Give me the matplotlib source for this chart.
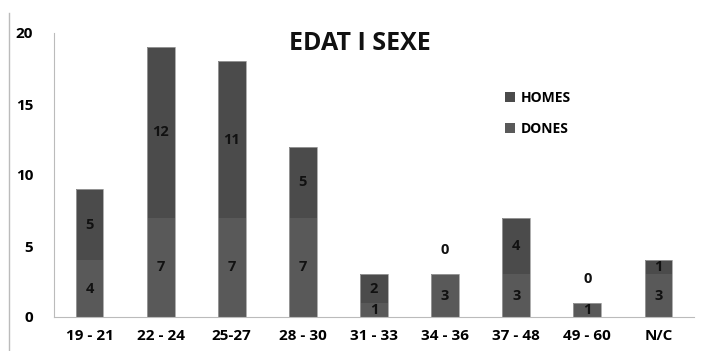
import matplotlib
matplotlib.use("Agg")
import matplotlib.pyplot as plt
from matplotlib.lines import Line2D
import numpy as np

# age groups and counts per sex
grups = ["19 - 21", "22 - 24", "25-27", "28 - 30", "31 - 33", "34 - 36", "37 - 48", "49 - 60", "N/C"]
dones = [4, 7, 7, 7, 1, 3, 3, 1, 3]
homes = [5, 12, 11, 5, 2, 0, 4, 0, 1]

color_homes = "#4b4b4b"
color_dones = "#595959"

plt.rcParams["font.family"] = ["Open Sans", "DejaVu Sans"]

fig = plt.figure(figsize=(7.02, 3.51), dpi=100)
ax = fig.add_axes([54 / 702, 1 - 317 / 351, 640 / 702, (317 - 33) / 351])

x = np.arange(len(grups))
w = 0.39
b1 = ax.bar(x, dones, w, color=color_dones, linewidth=0, label="DONES")
b2 = ax.bar(x, homes, w, bottom=dones, color=color_homes, linewidth=0, label="HOMES")
# thin light outline round each whole bar
totals = [d + h for d, h in zip(dones, homes)]
ax.bar(x, totals, w, fill=False, edgecolor="#a0a0a0", linewidth=0.6)

# value labels: inside the segment, or just above the bar when zero
for i in range(len(grups)):
    ax.text(x[i], dones[i] / 2, str(dones[i]), ha="center", va="center",
            fontsize=10.5, fontweight="bold", color="#111111")
    if homes[i] > 0:
        ax.text(x[i], dones[i] + homes[i] / 2, str(homes[i]), ha="center", va="center",
                fontsize=10.5, fontweight="bold", color="#111111")
    else:
        ax.text(x[i], dones[i] + 1.7, "0", ha="center", va="center",
                fontsize=10.5, fontweight="bold", color="#111111")

ax.set_xlim(-0.5, len(grups) - 0.5)
ax.set_ylim(0, 20)
ax.set_yticks([0, 5, 10, 15, 20])
ax.set_xticks(x)
ax.set_xticklabels(grups, fontsize=11, fontweight="bold")
ax.tick_params(axis="both", length=0)
ax.tick_params(axis="y", pad=15, labelsize=11)
for lab in ax.get_yticklabels():
    lab.set_fontweight("bold")
ax.tick_params(axis="x", pad=9)

for s in ["top", "right"]:
    ax.spines[s].set_visible(False)
ax.spines["left"].set_color("#bbbbbb")
ax.spines["bottom"].set_color("#bbbbbb")

fig.text(360 / 702, 1 - 44 / 351, "EDAT I SEXE", ha="center", va="center",
         fontsize=18, fontweight="bold", color="#111111")

leg = ax.legend(handles=[b2, b1], loc="upper left", bbox_to_anchor=(0.705, 0.795),
                frameon=False, handlelength=0.7, handleheight=0.7,
                labelspacing=1.2, handletextpad=0.45, borderaxespad=0, borderpad=0,
                prop={"weight": "bold", "size": 10})

# left border line of the frame
fig.add_artist(Line2D([9 / 702, 9 / 702], [0, 1 - 13 / 351], color="#bbbbbb", linewidth=1.0,
                      transform=fig.transFigure))

fig.savefig("out.png", dpi=100)
